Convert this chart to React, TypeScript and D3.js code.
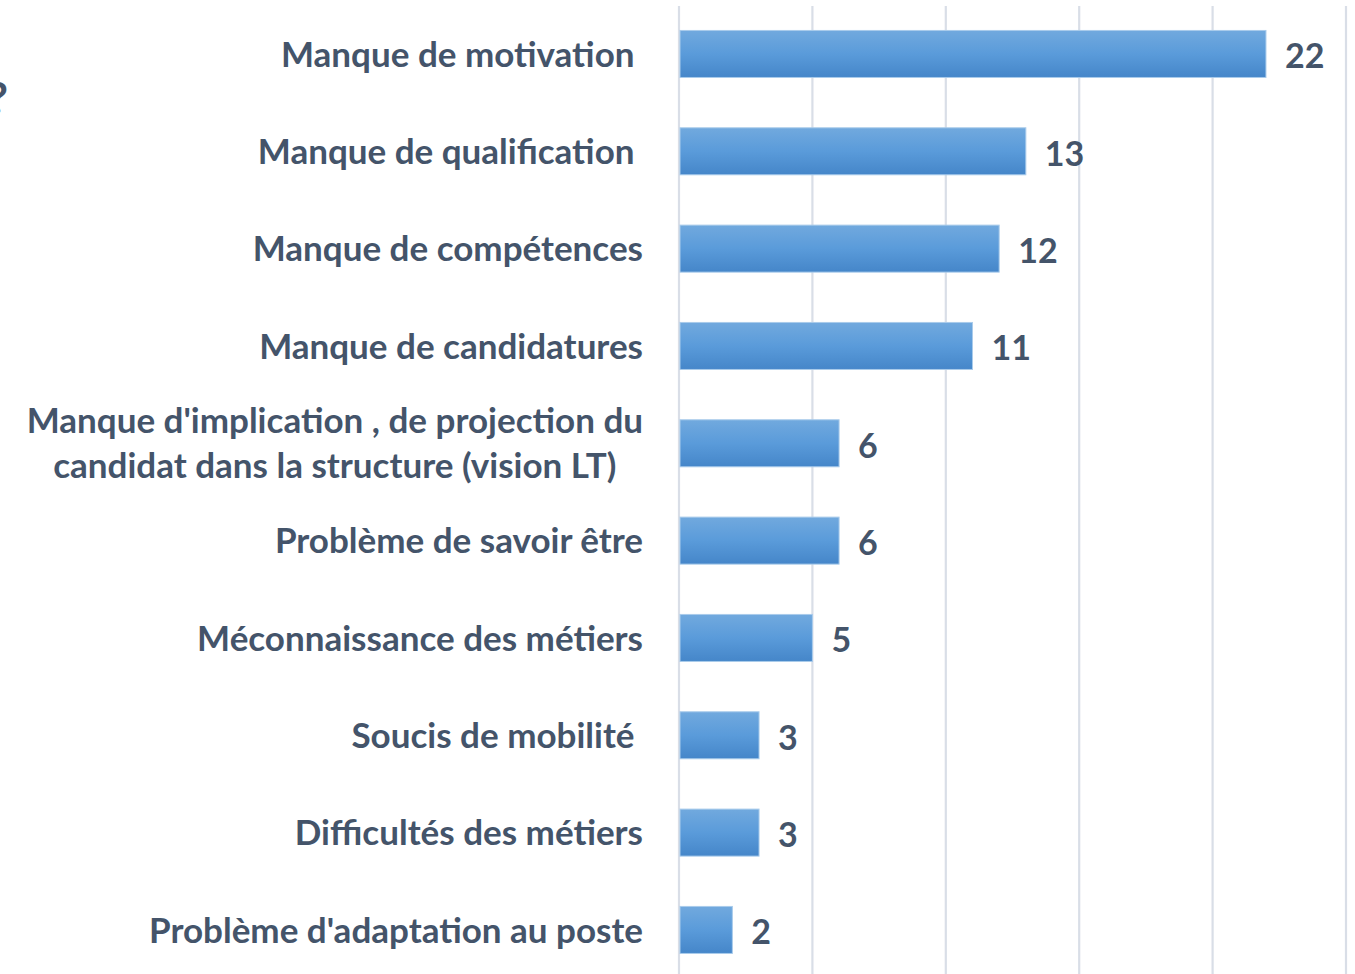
import React, { useEffect, useRef } from "react";
import * as d3 from "d3";

const categories: string[][] = [
  ["Manque de motivation "],
  ["Manque de qualification "],
  ["Manque de compétences"],
  ["Manque de candidatures"],
  ["Manque d'implication , de projection du", "candidat dans la structure (vision LT)"],
  ["Problème de savoir être"],
  ["Méconnaissance des métiers"],
  ["Soucis de mobilité "],
  ["Difficultés des métiers"],
  ["Problème d'adaptation au poste"],
];
const values: number[] = [22, 13, 12, 11, 6, 6, 5, 3, 3, 2];
const ticks: number[] = [0, 5, 10, 15, 20, 25];

const W = 1355;
const H = 974;
const TEXT = "#44546A";
const FONT = "Lato, 'Open Sans', sans-serif";
const LABEL_SIZE = 35;

export default function App() {
  const ref = useRef<SVGSVGElement>(null);
  useEffect(() => {
    const svg = d3.select(ref.current);
    svg.selectAll("*").remove();

    const x = d3.scaleLinear().domain([0, 25]).range([679, 1346]);
    const idx = categories.map((_, i) => String(i));
    const y = d3
      .scaleBand()
      .domain(idx)
      .range([5.3, 978.6])
      .paddingInner(0.517)
      .paddingOuter(0.2585);

    const defs = svg.append("defs");
    const g = defs
      .append("linearGradient")
      .attr("id", "barGrad")
      .attr("x1", 0)
      .attr("y1", 0)
      .attr("x2", 0)
      .attr("y2", 1);
    g.append("stop").attr("offset", "0%").attr("stop-color", "#71A9DE");
    g.append("stop").attr("offset", "50%").attr("stop-color", "#5A9BDA");
    g.append("stop").attr("offset", "100%").attr("stop-color", "#4586C9");

    // gridlines
    svg
      .append("g")
      .selectAll("line")
      .data(ticks)
      .join("line")
      .attr("x1", (d) => x(d))
      .attr("x2", (d) => x(d))
      .attr("y1", 6)
      .attr("y2", H)
      .attr("stroke", "#D9DEE7")
      .attr("stroke-width", 2.2);

    // bars
    svg
      .append("g")
      .selectAll("rect")
      .data(values)
      .join("rect")
      .attr("x", x(0) + 1)
      .attr("y", (_, i) => y(String(i))!)
      .attr("width", (d) => x(d) - x(0) - 1)
      .attr("height", y.bandwidth())
      .attr("fill", "url(#barGrad)")
      .attr("stroke", "#A9CBEB")
      .attr("stroke-width", 1);

    // value labels
    svg
      .append("g")
      .selectAll("text")
      .data(values)
      .join("text")
      .attr("x", (d) => x(d) + 19)
      .attr("y", (_, i) => y(String(i))! + y.bandwidth() / 2 + 2)
      .attr("dy", "0.36em")
      .attr("fill", TEXT)
      .attr("font-family", FONT)
      .attr("font-weight", "bold")
      .attr("font-size", 34)
      .text((d) => String(d));

    // category labels
    const labelG = svg.append("g");
    categories.forEach((lines, i) => {
      const cy = y(String(i))! + y.bandwidth() / 2;
      if (lines.length === 1) {
        labelG
          .append("text")
          .attr("x", 643)
          .attr("y", cy)
          .attr("dy", "0.36em")
          .attr("text-anchor", "end")
          .attr("fill", TEXT)
          .attr("font-family", FONT)
          .attr("font-weight", "bold")
          .attr("font-size", LABEL_SIZE)
          .style("white-space", "pre")
          .text(lines[0]);
      } else {
        const t1 = labelG
          .append("text")
          .attr("x", 643)
          .attr("y", cy - 23)
          .attr("dy", "0.36em")
          .attr("text-anchor", "end")
          .attr("fill", TEXT)
          .attr("font-family", FONT)
          .attr("font-weight", "bold")
          .attr("font-size", LABEL_SIZE)
          .style("white-space", "pre")
          .text(lines[0]);
        const w = (t1.node() as SVGTextElement).getComputedTextLength();
        labelG
          .append("text")
          .attr("x", 643 - w / 2)
          .attr("y", cy + 22)
          .attr("dy", "0.36em")
          .attr("text-anchor", "middle")
          .attr("fill", TEXT)
          .attr("font-family", FONT)
          .attr("font-weight", "bold")
          .attr("font-size", LABEL_SIZE)
          .text(lines[1]);
      }
    });

    // cropped fragment at left edge
    svg
      .append("text")
      .attr("x", 8)
      .attr("y", 114)
      .attr("text-anchor", "end")
      .attr("fill", TEXT)
      .attr("font-family", FONT)
      .attr("font-weight", "bold")
      .attr("font-size", 44)
      .text("?");
  }, []);

  return (
    <svg
      ref={ref}
      width={W}
      height={H}
      style={{ position: "absolute", left: 0, top: 0, background: "#fff" }}
    />
  );
}
